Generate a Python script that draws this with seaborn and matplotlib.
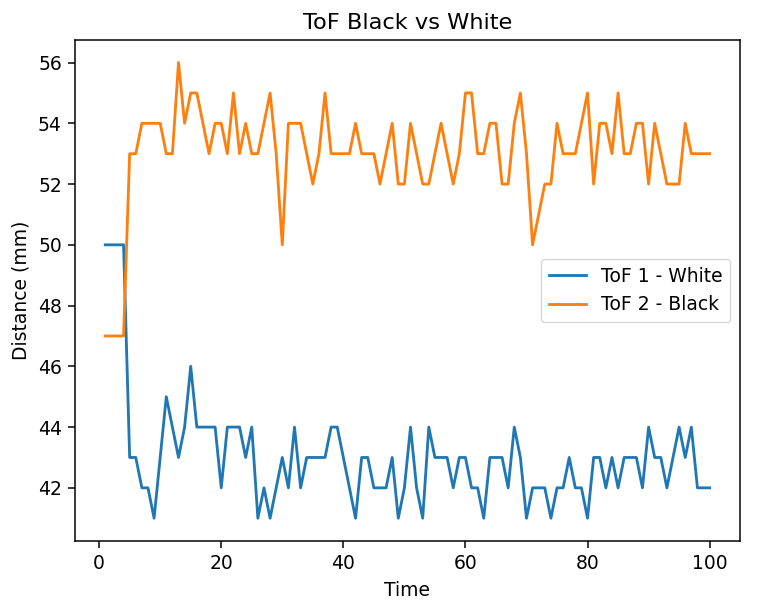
import matplotlib
matplotlib.use("Agg")
import matplotlib.pyplot as plt
import seaborn as sns
import pandas as pd

time = list(range(1, 101))

tof1_white = [50, 50, 50, 50, 43, 43, 42, 42, 41, 43,
              45, 44, 43, 44, 46, 44, 44, 44, 44, 42,
              44, 44, 44, 43, 44, 41, 42, 41, 42, 43,
              42, 44, 42, 43, 43, 43, 43, 44, 44, 43,
              42, 41, 43, 43, 42, 42, 42, 43, 41, 42,
              44, 42, 41, 44, 43, 43, 43, 42, 43, 43,
              42, 42, 41, 43, 43, 43, 42, 44, 43, 41,
              42, 42, 42, 41, 42, 42, 43, 42, 42, 41,
              43, 43, 42, 43, 42, 43, 43, 43, 42, 44,
              43, 43, 42, 43, 44, 43, 44, 42, 42, 42]

tof2_black = [47, 47, 47, 47, 53, 53, 54, 54, 54, 54,
              53, 53, 56, 54, 55, 55, 54, 53, 54, 54,
              53, 55, 53, 54, 53, 53, 54, 55, 53, 50,
              54, 54, 54, 53, 52, 53, 55, 53, 53, 53,
              53, 54, 53, 53, 53, 52, 53, 54, 52, 52,
              54, 53, 52, 52, 53, 54, 53, 52, 53, 55,
              55, 53, 53, 54, 54, 52, 52, 54, 55, 53,
              50, 51, 52, 52, 54, 53, 53, 53, 54, 55,
              52, 54, 54, 53, 55, 53, 53, 54, 54, 52,
              54, 53, 52, 52, 52, 54, 53, 53, 53, 53]

labels = ["ToF 1 - White", "ToF 2 - Black"]
colors = ["#1f77b4", "#ff7f0e"]

df = pd.DataFrame({
    "Time": time * 2,
    "Distance (mm)": tof1_white + tof2_black,
    "Sensor": [labels[0]] * len(time) + [labels[1]] * len(time),
})

s = 1.35
plt.rcParams.update({
    "font.size": 10 * s,
    "axes.linewidth": 0.8 * s,
    "xtick.major.size": 3.5 * s,
    "ytick.major.size": 3.5 * s,
    "xtick.major.width": 0.8 * s,
    "ytick.major.width": 0.8 * s,
    "xtick.major.pad": 3.5 * s,
    "ytick.major.pad": 3.5 * s,
    "axes.titlepad": 6 * s,
    "axes.labelpad": 4 * s,
})

fig = plt.figure(figsize=(7.84, 6.12), dpi=100)
ax = fig.add_axes([0.0957, 0.116, 0.848, 0.819])
sns.lineplot(data=df, x="Time", y="Distance (mm)", hue="Sensor",
             palette=dict(zip(labels, colors)), linewidth=1.5 * s, ax=ax)
ax.set_title("ToF Black vs White", fontsize=12 * s)
ax.set_xlabel("Time")
ax.set_ylabel("Distance (mm)")
handles, lbls = ax.get_legend_handles_labels()
ax.legend(handles, lbls, loc="center right")
fig.savefig("out.png", dpi=100)
